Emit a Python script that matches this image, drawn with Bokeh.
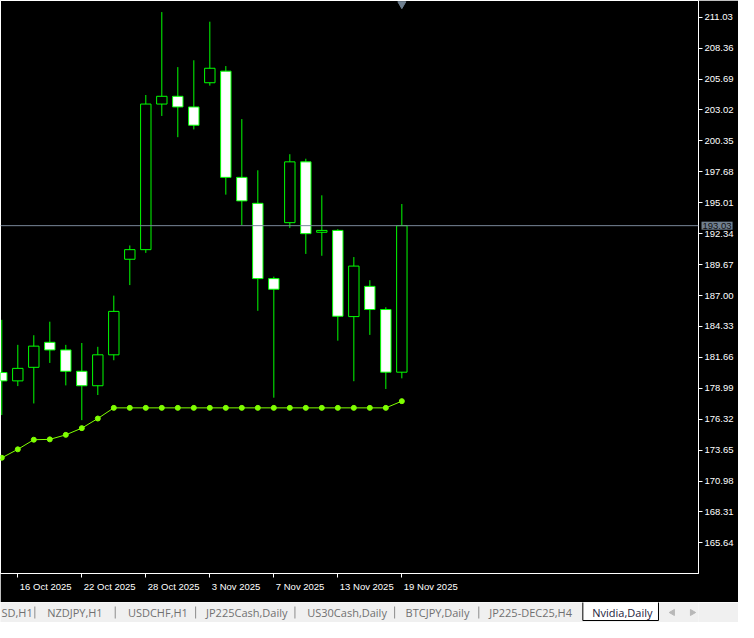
from bokeh.plotting import figure
from bokeh.models import Range1d, FixedTicker, Span, Label, ColumnDataSource
from bokeh.layouts import column
from bokeh.embed import file_html
from bokeh.resources import INLINE
from bokeh.core.properties import value

# ---------------- data ----------------
# trading days shown (14 Oct only carries the indicator, its candle is off-screen)
dates = ["14 Oct 2025", "15 Oct 2025", "16 Oct 2025", "17 Oct 2025", "20 Oct 2025",
         "21 Oct 2025", "22 Oct 2025", "23 Oct 2025", "24 Oct 2025", "27 Oct 2025",
         "28 Oct 2025", "29 Oct 2025", "30 Oct 2025", "31 Oct 2025", "3 Nov 2025",
         "4 Nov 2025", "5 Nov 2025", "6 Nov 2025", "7 Nov 2025", "10 Nov 2025",
         "11 Nov 2025", "12 Nov 2025", "13 Nov 2025", "14 Nov 2025", "17 Nov 2025",
         "18 Nov 2025", "19 Nov 2025"]
candle_dates = dates[1:]
opens = [180.35, 179.63, 180.80, 182.96, 182.30, 180.46, 179.21, 181.88, 190.13, 190.96,
         203.53, 204.20, 203.28, 205.37, 206.37, 197.20, 194.96, 188.46, 193.29, 198.54,
         192.46, 192.62, 185.18, 187.79, 185.79, 180.38]
highs = [184.90, 182.74, 183.57, 184.74, 182.74, 182.90, 182.57, 186.99, 191.32, 204.31,
         211.47, 206.72, 207.31, 210.64, 206.81, 202.23, 197.81, 188.63, 199.20, 198.81,
         195.65, 192.73, 190.32, 188.32, 185.99, 194.90]
lows = [176.68, 179.18, 177.68, 181.18, 179.24, 176.24, 178.41, 181.41, 187.90, 190.68,
        202.50, 200.67, 201.34, 205.12, 195.71, 193.07, 185.68, 178.18, 192.84, 190.59,
        190.43, 183.10, 179.60, 183.60, 178.93, 179.85]
closes = [179.63, 180.71, 182.63, 182.30, 180.46, 179.21, 181.88, 185.63, 190.96, 203.53,
          204.20, 203.28, 201.70, 206.62, 197.20, 195.17, 188.46, 187.54, 198.54, 192.34,
          192.62, 185.21, 189.54, 185.79, 180.38, 193.03]
indicator = [171.09, 172.99, 173.72, 174.55, 174.58, 174.97, 175.55, 176.38,
             177.30, 177.30, 177.30, 177.30, 177.30, 177.30, 177.30, 177.30, 177.30,
             177.30, 177.30, 177.30, 177.30, 177.30, 177.30, 177.30, 177.30, 177.30,
             177.88]
labeled_dates = ["16 Oct 2025", "22 Oct 2025", "28 Oct 2025", "3 Nov 2025",
                 "7 Nov 2025", "13 Nov 2025", "19 Nov 2025"]
y_tick_labels = ["211.03", "208.36", "205.69", "203.02", "200.35", "197.68", "195.01",
                 "192.34", "189.67", "187.00", "184.33", "181.66", "178.99", "176.32",
                 "173.65", "170.98", "168.31", "165.64"]
current_price = 193.03
tab_labels = ["SD,H1", "NZDJPY,H1", "USDCHF,H1", "JP225Cash,Daily", "US30Cash,Daily",
              "BTCJPY,Daily", "JP225-DEC25,H4", "Nvidia,Daily"]
active_tab = "Nvidia,Daily"

# ---------------- layout / style ----------------
W, H_MAIN, H_TABS = 738, 602, 20
FRAME_W = 698
RIGHT_B, BOTTOM_B = W - FRAME_W, 20
X0, X1 = -0.081, 43.54
Y0, Y1 = 163.0, 212.47
GREEN = "#00ff00"
IND = "#7fff00"
SLATE = "#708090"
AX_FONT = "Liberation Sans"
AX_SIZE = 9.5

idx_of = {d: i - 1 for i, d in enumerate(dates)}  # 15 Oct -> 0

p = figure(width=W, height=H_MAIN, x_range=Range1d(X0, X1), y_range=Range1d(Y0, Y1),
           y_axis_location="right", toolbar_location=None, output_backend="svg",
           background_fill_color="black", border_fill_color="black",
           min_border_left=0, min_border_top=0, min_border_right=RIGHT_B,
           min_border_bottom=BOTTOM_B, outline_line_color="white", outline_line_width=1)
p.grid.visible = False

# current price line
p.add_layout(Span(location=current_price, dimension="width", line_color="#7a8899",
                  line_width=1))

# indicator
ind_src = ColumnDataSource(dict(x=[idx_of[d] for d in dates], y=indicator))
p.line("x", "y", source=ind_src, line_color=IND, line_width=1)
p.scatter("x", "y", source=ind_src, size=5, fill_color=IND, line_color=IND)

# candles
cx = [idx_of[d] for d in candle_dates]
src = ColumnDataSource(dict(
    x=cx, high=highs, low=lows,
    top=[max(o, c) for o, c in zip(opens, closes)],
    bottom=[min(o, c) for o, c in zip(opens, closes)],
    fill=["black" if c >= o else "white" for o, c in zip(opens, closes)],
))
p.segment(x0="x", y0="low", x1="x", y1="high", source=src, line_color=GREEN, line_width=1)
p.vbar(x="x", width=0.65, top="top", bottom="bottom", source=src, fill_color="fill",
       line_color=GREEN, line_width=1)

# chart-shift marker at last bar, top edge
px_per_price = (H_MAIN - 34) / (Y1 - Y0)
p.scatter(x=[cx[-1]], y=[Y1 - 3.5 / px_per_price], marker="inverted_triangle", size=8,
          fill_color=SLATE, line_color=SLATE)

# y axis (right)
yvals = [float(s) for s in y_tick_labels]
ya = p.yaxis[0]
ya.ticker = FixedTicker(ticks=yvals)
ya.major_label_overrides = {v: s for v, s in zip(yvals, y_tick_labels)}
ya.major_tick_out = 4
ya.major_tick_in = 0
ya.minor_tick_line_color = None
ya.major_tick_line_color = "white"
ya.axis_line_color = "white"
ya.major_label_text_color = "white"
ya.major_label_text_font = AX_FONT
ya.major_label_text_font_size = f"{AX_SIZE}px"
ya.major_label_standoff = 2

# x axis (dates, text left-aligned after the tick like MT5)
EM = {" ": 0.278, "O": 0.778, "N": 0.722, "c": 0.5, "t": 0.278, "o": 0.556, "v": 0.5}
def text_px(s):
    return sum(EM.get(ch, 0.556) for ch in s) * AX_SIZE
px_per_bar = FRAME_W / (X1 - X0)
tick_pos = [idx_of[d] for d in labeled_dates]
label_pos = [t + (text_px(d) / 2 + 2) / px_per_bar for t, d in zip(tick_pos, labeled_dates)]
xa = p.xaxis[0]
xa.ticker = FixedTicker(ticks=label_pos, minor_ticks=tick_pos)
xa.major_label_overrides = {v: d for v, d in zip(label_pos, labeled_dates)}
xa.major_tick_line_color = None
xa.major_tick_out = 0
xa.major_tick_in = 0
xa.minor_tick_line_color = "white"
xa.minor_tick_out = 4
xa.minor_tick_in = 0
xa.axis_line_color = "white"
xa.major_label_text_color = "white"
xa.major_label_text_font = AX_FONT
xa.major_label_text_font_size = f"{AX_SIZE}px"
xa.major_label_standoff = 3

# price label on the price axis (placed in a side panel so it is not clipped to the frame)
p.add_layout(Label(x=X1, y=current_price, x_offset=3, text=f"{current_price:.2f}",
                   text_color="#101010", text_font=AX_FONT,
                   text_font_size=f"{AX_SIZE}px", text_baseline="middle",
                   background_fill_color=SLATE, padding=1), "below")

# ---------------- tab strip ----------------
tab_x = [9, 57.3, 142.7, 225.3, 332.3, 436.3, 524.7, 633.7]
sep_x = [44.3, 129.3, 214.3, 319.3, 424.7, 513.7]
t = figure(width=W, height=H_TABS, x_range=Range1d(8, 746), y_range=Range1d(0, 20),
           toolbar_location=None, output_backend="svg", background_fill_color="#f0f0f0",
           border_fill_color="#f0f0f0", min_border=0, outline_line_color=None)
t.axis.visible = False
t.grid.visible = False
ai = tab_labels.index(active_tab)
t.quad(left=[623.7], right=[703.7], top=[21], bottom=[2], fill_color="white",
       line_color="black", line_width=1)
t.segment(x0=sep_x, y0=[4] * len(sep_x), x1=sep_x, y1=[16] * len(sep_x),
          line_color="#8c8c8c", line_width=1)
t.text(x=tab_x, y=[10] * len(tab_labels), text=tab_labels, text_baseline="middle",
       text_align="left", text_font=value("Open Sans"), text_font_size="11px",
       text_color=["#1c1c3c" if i == ai else "#707070" for i in range(len(tab_labels))])
t.scatter(x=[718.7, 739.3], y=[10, 10], marker="triangle", size=6,
          angle=[1.5708, -1.5708], fill_color="#b8b8b8", line_color="#b8b8b8")

layout = column(p, t, spacing=0)
open("out.html", "w").write(file_html(layout, INLINE))
